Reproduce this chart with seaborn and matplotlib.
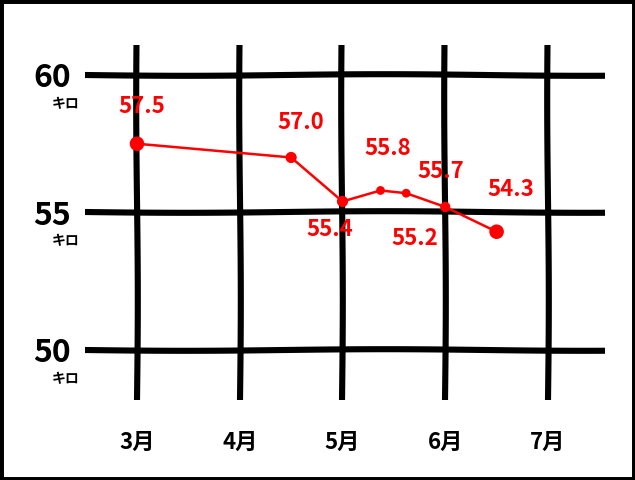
import matplotlib
matplotlib.use("Agg")
import matplotlib.pyplot as plt
import seaborn as sns
import pandas as pd
from matplotlib.patches import Rectangle

# ---- data ----
months = [3.0, 4.5, 5.0, 5.37, 5.62, 6.0, 6.5]
weights = [57.5, 57.0, 55.4, 55.8, 55.7, 55.2, 54.3]
value_labels = ["57.5", "57.0", "55.4", "55.8", "55.7", "55.2", "54.3"]
x_ticks = [3, 4, 5, 6, 7]
x_tick_labels = ["3月", "4月", "5月", "6月", "7月"]
y_ticks = [50, 55, 60]
y_tick_labels = ["50", "55", "60"]
unit_label = "キロ"

# ---- styles ----
marker_sizes = [110, 65, 65, 40, 40, 55, 110]
label_offsets_px = [(5, 37), (10, 35), (-13, -28), (7, 42), (35, 22), (-30, -32), (14, 42)]

sns.set_theme(style="white")
plt.rcParams["font.family"] = ["Noto Sans CJK JP", "DejaVu Sans"]

df = pd.DataFrame({"month": months, "weight": weights})

fig = plt.figure(figsize=(6.35, 4.8), dpi=100)
ax = fig.add_axes([85 / 635, 1 - 400 / 480, (605 - 85) / 635, (400 - 45) / 480])

for s in ax.spines.values():
    s.set_visible(False)

ax.set_xlim(2.494, 7.555)
ax.set_ylim(48.18, 61.09)
ax.set_xticks(x_ticks)
ax.set_xticklabels(x_tick_labels, fontsize=16, fontweight="bold", color="black")
ax.set_yticks(y_ticks)
ax.set_yticklabels(y_tick_labels, fontsize=23, fontweight="bold", color="black")
ax.tick_params(axis="x", length=0, pad=22)
ax.tick_params(axis="y", length=0, pad=10)

ax.grid(True, color="black", linewidth=4.4, solid_capstyle="round")
for gl in ax.get_xgridlines() + ax.get_ygridlines():
    gl.set_sketch_params(scale=0.8, length=400, randomness=1)
ax.set_axisbelow(True)

sns.lineplot(data=df, x="month", y="weight", ax=ax, color="#ff0000",
             linewidth=1.8, sort=False, zorder=3)
sns.scatterplot(data=df, x="month", y="weight", ax=ax, color="#ff0000",
                s=marker_sizes, edgecolor="none", zorder=4, legend=False)

for xm, yw, lab, (dx, dy) in zip(months, weights, value_labels, label_offsets_px):
    ax.annotate(lab, (xm, yw), xytext=(dx * 0.72, dy * 0.72), textcoords="offset points",
                ha="center", va="center", color="#ff0000", fontsize=16,
                fontweight="bold", zorder=5)

for yv in y_ticks:
    ax.annotate(unit_label, (0, yv), xycoords=("axes fraction", "data"),
                xytext=(-14, -21), textcoords="offset points",
                ha="center", va="center", fontsize=10, fontweight="bold", color="black")

ax.set_xlabel("")
ax.set_ylabel("")

fig.add_artist(Rectangle((0, 0), 1, 1, transform=fig.transFigure, fill=False,
                         edgecolor="black", linewidth=5))

fig.savefig("out.png", dpi=100, facecolor="white")
